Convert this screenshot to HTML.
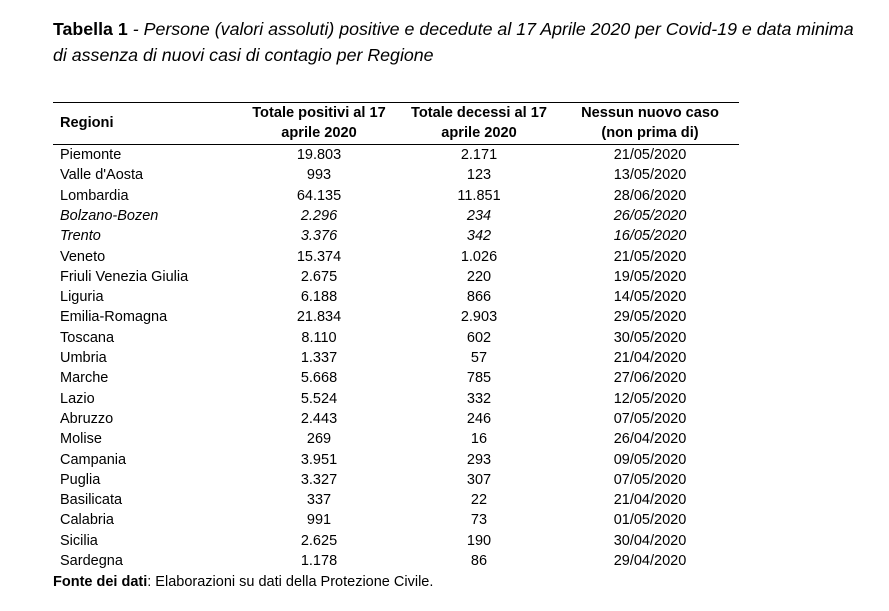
<!DOCTYPE html>
<html><head><meta charset="utf-8"><style>
body{margin:0;width:889px;height:611px;background:#fff;font-family:"Liberation Sans",sans-serif;color:#000;position:relative;overflow:hidden}
.t{position:absolute;left:53px;font-size:17.8px;line-height:26px;white-space:nowrap}
.ln{position:absolute;left:53px;width:686px;height:1px;background:#000}
.r{position:absolute;left:0;width:889px;height:20px;font-size:14.5px;line-height:20px}
.r span{position:absolute;white-space:nowrap}
.c1{left:60px}
.c2{left:244px;width:150px;text-align:center}
.c3{left:404px;width:150px;text-align:center}
.c4{left:575px;width:150px;text-align:center}
.i{font-style:italic}
.h{font-weight:bold;font-size:14.6px}
</style></head><body>
<div class="t" style="top:16px"><b>Tabella 1</b> <i>- Persone (valori assoluti) positive e decedute al 17 Aprile 2020 per Covid-19 e data minima</i></div>
<div class="t" style="top:42px"><i>di assenza di nuovi casi di contagio per Regione</i></div>
<div class="ln" style="top:102px"></div>
<div class="r h" style="top:103px"><span class="c2">Totale positivi al 17</span><span class="c3">Totale decessi al 17</span><span class="c4">Nessun nuovo caso</span></div>
<div class="r h" style="top:113px"><span class="c1">Regioni</span></div>
<div class="r h" style="top:123px"><span class="c2">aprile 2020</span><span class="c3">aprile 2020</span><span class="c4">(non prima di)</span></div>
<div class="ln" style="top:144px"></div>
<div class="r" style="top:145px"><span class="c1">Piemonte</span><span class="c2">19.803</span><span class="c3">2.171</span><span class="c4">21/05/2020</span></div>
<div class="r" style="top:165.3px"><span class="c1">Valle d'Aosta</span><span class="c2">993</span><span class="c3">123</span><span class="c4">13/05/2020</span></div>
<div class="r" style="top:185.6px"><span class="c1">Lombardia</span><span class="c2">64.135</span><span class="c3">11.851</span><span class="c4">28/06/2020</span></div>
<div class="r i" style="top:205.9px"><span class="c1">Bolzano-Bozen</span><span class="c2">2.296</span><span class="c3">234</span><span class="c4">26/05/2020</span></div>
<div class="r i" style="top:226.2px"><span class="c1">Trento</span><span class="c2">3.376</span><span class="c3">342</span><span class="c4">16/05/2020</span></div>
<div class="r" style="top:246.5px"><span class="c1">Veneto</span><span class="c2">15.374</span><span class="c3">1.026</span><span class="c4">21/05/2020</span></div>
<div class="r" style="top:266.8px"><span class="c1">Friuli Venezia Giulia</span><span class="c2">2.675</span><span class="c3">220</span><span class="c4">19/05/2020</span></div>
<div class="r" style="top:287.1px"><span class="c1">Liguria</span><span class="c2">6.188</span><span class="c3">866</span><span class="c4">14/05/2020</span></div>
<div class="r" style="top:307.4px"><span class="c1">Emilia-Romagna</span><span class="c2">21.834</span><span class="c3">2.903</span><span class="c4">29/05/2020</span></div>
<div class="r" style="top:327.7px"><span class="c1">Toscana</span><span class="c2">8.110</span><span class="c3">602</span><span class="c4">30/05/2020</span></div>
<div class="r" style="top:348px"><span class="c1">Umbria</span><span class="c2">1.337</span><span class="c3">57</span><span class="c4">21/04/2020</span></div>
<div class="r" style="top:368.3px"><span class="c1">Marche</span><span class="c2">5.668</span><span class="c3">785</span><span class="c4">27/06/2020</span></div>
<div class="r" style="top:388.6px"><span class="c1">Lazio</span><span class="c2">5.524</span><span class="c3">332</span><span class="c4">12/05/2020</span></div>
<div class="r" style="top:408.9px"><span class="c1">Abruzzo</span><span class="c2">2.443</span><span class="c3">246</span><span class="c4">07/05/2020</span></div>
<div class="r" style="top:429.2px"><span class="c1">Molise</span><span class="c2">269</span><span class="c3">16</span><span class="c4">26/04/2020</span></div>
<div class="r" style="top:449.5px"><span class="c1">Campania</span><span class="c2">3.951</span><span class="c3">293</span><span class="c4">09/05/2020</span></div>
<div class="r" style="top:469.8px"><span class="c1">Puglia</span><span class="c2">3.327</span><span class="c3">307</span><span class="c4">07/05/2020</span></div>
<div class="r" style="top:490.1px"><span class="c1">Basilicata</span><span class="c2">337</span><span class="c3">22</span><span class="c4">21/04/2020</span></div>
<div class="r" style="top:510.4px"><span class="c1">Calabria</span><span class="c2">991</span><span class="c3">73</span><span class="c4">01/05/2020</span></div>
<div class="r" style="top:530.7px"><span class="c1">Sicilia</span><span class="c2">2.625</span><span class="c3">190</span><span class="c4">30/04/2020</span></div>
<div class="r" style="top:551px"><span class="c1">Sardegna</span><span class="c2">1.178</span><span class="c3">86</span><span class="c4">29/04/2020</span></div>
<div class="r" style="top:572px"><span style="left:53px"><b>Fonte dei dati</b>: Elaborazioni su dati della Protezione Civile.</span></div>
</body></html>
